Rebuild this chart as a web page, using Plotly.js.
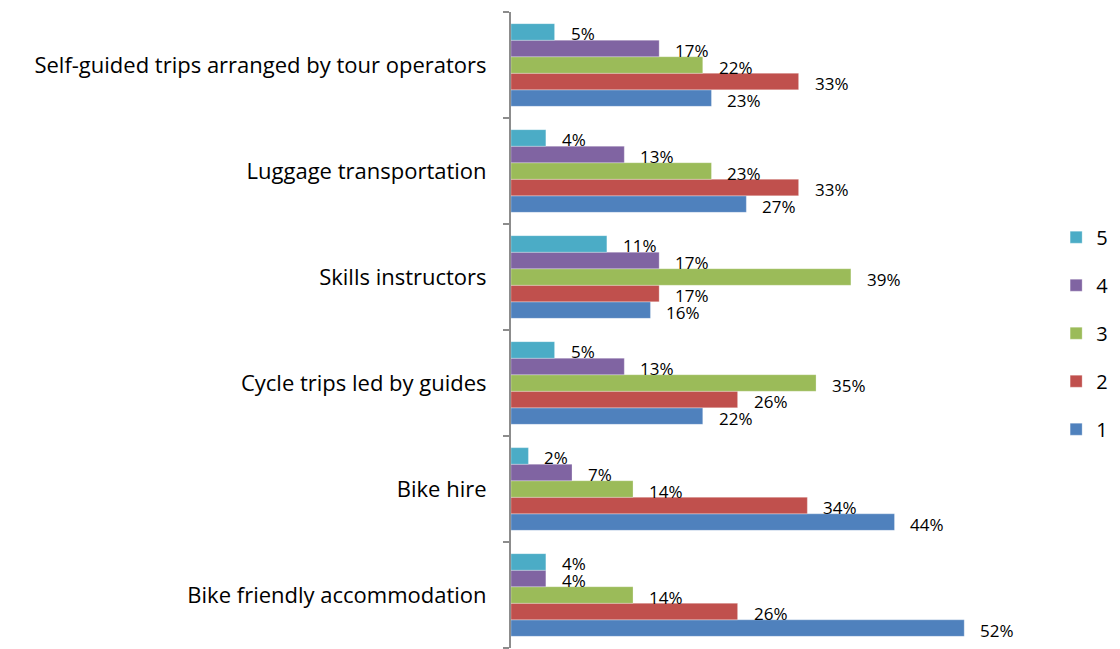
<!DOCTYPE html>
<html><head><meta charset="utf-8">
<script src="https://cdn.plot.ly/plotly-3.0.1.min.js"></script>
<style>html,body{margin:0;padding:0;background:#fff}#chart{width:1120px;height:649px}</style>
</head><body><div id="chart"></div>
<script>
// categories from bottom to top
const categories = [
  "Bike friendly accommodation",
  "Bike hire",
  "Cycle trips led by guides",
  "Skills instructors",
  "Luggage transportation",
  "Self-guided trips arranged by tour operators"
];
const seriesNames = ["1", "2", "3", "4", "5"];
const s1 = [52, 44, 22, 16, 27, 23];
const s2 = [26, 34, 26, 17, 33, 33];
const s3 = [14, 14, 35, 39, 23, 22];
const s4 = [4, 7, 13, 17, 13, 17];
const s5 = [4, 2, 5, 11, 4, 5];
const seriesValues = [s1, s2, s3, s4, s5];
const colors = ["#4F81BD", "#C0504D", "#9BBB59", "#8064A2", "#4BACC6"];

const bargap = 0.22;
const nS = seriesValues.length;
const bw = (1 - bargap) / nS;
const FONT = "Open Sans, Liberation Sans, Arial, sans-serif";

const traces = seriesValues.map((vals, i) => ({
  type: "bar",
  orientation: "h",
  name: seriesNames[i],
  legendgroup: "g" + i,
  legendrank: nS - i,
  x: vals,
  y: categories,
  marker: {color: colors[i], line: {color: "rgba(255,255,255,0.35)", width: 0.8}},
  hoverinfo: "skip"
}));

const annotations = [];
seriesValues.forEach((vals, i) => {
  vals.forEach((v, c) => {
    annotations.push({
      x: v, y: c + (i - (nS - 1) / 2) * bw,
      xref: "x", yref: "y",
      text: v + "%", showarrow: false,
      xanchor: "left", yanchor: "middle",
      xshift: 14, yshift: -2,
      font: {family: FONT, size: 17, color: "#000"}
    });
  });
});

const layout = {
  width: 1120, height: 649,
  margin: {l: 511, r: 100, t: 12, b: 1, autoexpand: false},
  paper_bgcolor: "#fff", plot_bgcolor: "#fff",
  barmode: "group", bargap: bargap, bargroupgap: 0,
  showlegend: true,
  legend: {
    x: 1.071, xanchor: "left", y: 0.495, yanchor: "middle",
    traceorder: "grouped", tracegroupgap: 19,
    font: {family: FONT, size: 20, color: "#000"},
    itemwidth: 30
  },
  xaxis: {range: [0, 58.4], visible: false, fixedrange: true},
  yaxis: {
    type: "category", range: [-0.5, 5.5],
    showline: true, linecolor: "#8c8c8c", linewidth: 2,
    ticks: "outside", ticklen: 6, tickcolor: "#8c8c8c", tickwidth: 2,
    tickson: "boundaries", showgrid: false, zeroline: false,
    ticklabelstandoff: 18,
    tickfont: {family: FONT, size: 22, color: "#000"}
  },
  annotations: annotations
};

Plotly.newPlot("chart", traces, layout, {staticPlot: true, displayModeBar: false});
</script>
</body></html>
